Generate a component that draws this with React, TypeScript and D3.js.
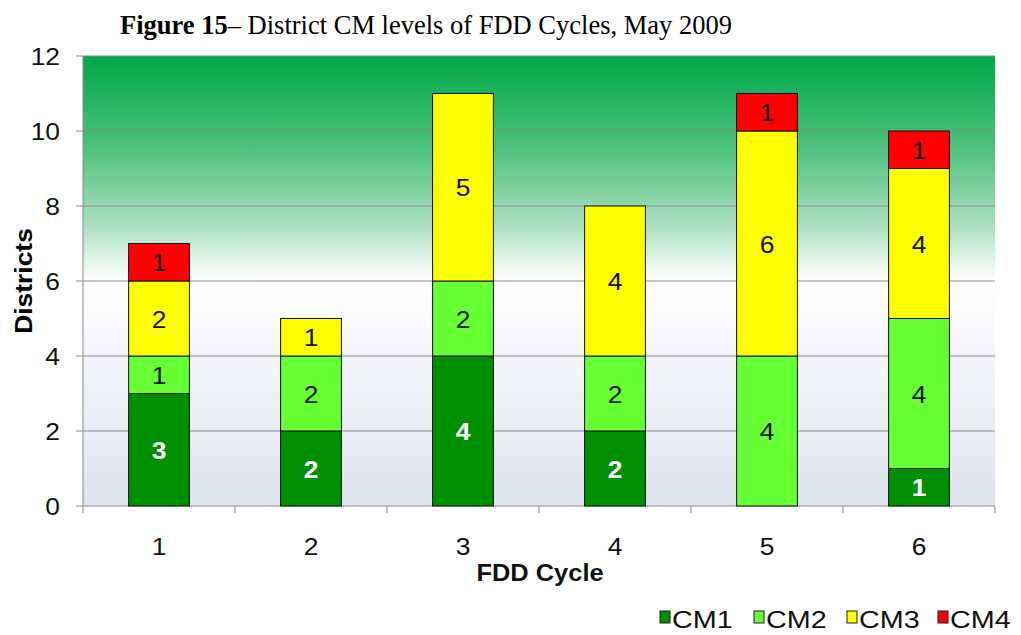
import React from "react";
import * as d3 from "d3";

const cycles = ["1", "2", "3", "4", "5", "6"];
const seriesNames = ["CM1", "CM2", "CM3", "CM4"];
const cm1 = [3, 2, 4, 2, 0, 1];
const cm2 = [1, 2, 2, 2, 4, 4];
const cm3 = [2, 1, 5, 4, 6, 4];
const cm4 = [1, 0, 0, 0, 1, 1];
const colors = ["#008f00", "#66ff33", "#ffff00", "#ff0000"];
const yTicks = [0, 2, 4, 6, 8, 10, 12];

const W = 1021, H = 635;
const left = 83, right = 995, top = 56, bottom = 506;
const font = "Arial, 'Liberation Sans', sans-serif";

function SText({ x, y, sx = 1.1, anchor = "start", size = 24, weight = "normal", fill = "#111", children }: any) {
  return (
    <text transform={`translate(${x},${y}) scale(${sx},1)`} textAnchor={anchor} fontFamily={font}
      fontSize={size} fontWeight={weight} fill={fill}>{children}</text>
  );
}

export default function App() {
  const x = d3.scaleBand<string>().domain(cycles).range([left, right]).paddingInner(0.6).paddingOuter(0.3);
  const xb = d3.scaleBand<string>().domain(cycles).range([left, right]);
  const y = d3.scaleLinear().domain([0, 12]).range([bottom, top]);

  const rows = cycles.map((c, i) => ({ c, CM1: cm1[i], CM2: cm2[i], CM3: cm3[i], CM4: cm4[i] }));
  const stacked = d3.stack<any>().keys(seriesNames)(rows);
  const legendX = [660, 754, 847, 938];

  return (
    <svg width={W} height={H} style={{ position: "absolute", left: 0, top: 0, background: "#fff" }}>
      <defs>
        <linearGradient id="bg" x1="0" y1="0" x2="0" y2="1">
          <stop offset="0" stopColor="#00a849" />
          <stop offset="0.2" stopColor="#4cc07c" />
          <stop offset="0.38" stopColor="#aee0c2" />
          <stop offset="0.5" stopColor="#ffffff" />
          <stop offset="1" stopColor="#dde3ef" />
        </linearGradient>
      </defs>
      <text x={120} y={34} fontFamily="'Times New Roman', 'Liberation Serif', serif" fontSize={26.5} fill="#000">
        <tspan fontWeight="bold">Figure 15</tspan>– District CM levels of FDD Cycles, May 2009
      </text>
      <rect x={left} y={top} width={right - left} height={bottom - top} fill="url(#bg)" />
      {yTicks.map((t) => (
        <g key={t}>
          {t > 0 && <line x1={left} x2={right} y1={y(t)} y2={y(t)} stroke="#8a8a8a" strokeWidth={1} />}
          <line x1={left - 7} x2={left} y1={y(t)} y2={y(t)} stroke="#8a8a8a" />
          <SText x={60} y={y(t) + 9} anchor="end">{t}</SText>
        </g>
      ))}
      <line x1={left} x2={left} y1={top} y2={bottom} stroke="#8a8a8a" />
      <line x1={left} x2={right} y1={bottom} y2={bottom} stroke="#8a8a8a" />
      {[...cycles.map((c) => xb(c)!), right].map((v, i) => (
        <line key={i} x1={v} x2={v} y1={bottom} y2={bottom + 7} stroke="#8a8a8a" />
      ))}
      {cycles.map((c) => (
        <SText key={c} x={xb(c)! + xb.bandwidth() / 2} y={555} anchor="middle">{c}</SText>
      ))}
      {stacked.map((s, si) => (
        <g key={s.key}>
          {s.map((d, i) => {
            const v = d[1] - d[0];
            if (v <= 0) return null;
            const bx = x(cycles[i])!;
            return (
              <g key={i}>
                <rect x={bx} y={y(d[1])} width={x.bandwidth()} height={y(d[0]) - y(d[1])} fill={colors[si]} stroke="#111" strokeWidth={1} />
                <SText x={bx + x.bandwidth() / 2} y={(y(d[0]) + y(d[1])) / 2 + 9} anchor="middle"
                  weight={si === 0 ? "bold" : "normal"} fill={si === 0 ? "#ffffff" : "#111"}>{v}</SText>
              </g>
            );
          })}
        </g>
      ))}
      <SText x={540} y={581} anchor="middle" weight="bold" sx={1.06}>FDD Cycle</SText>
      <text transform={`translate(32,281) rotate(-90) scale(1.1,1)`} textAnchor="middle" fontFamily={font} fontSize={24} fontWeight="bold">Districts</text>
      {seriesNames.map((n, i) => (
        <g key={n}>
          <rect x={legendX[i]} y={611} width={10} height={12} fill={colors[i]} stroke="#222" strokeWidth={1} />
          <SText x={legendX[i] + 12} y={628} size={23} sx={1.25}>{n}</SText>
        </g>
      ))}
    </svg>
  );
}
